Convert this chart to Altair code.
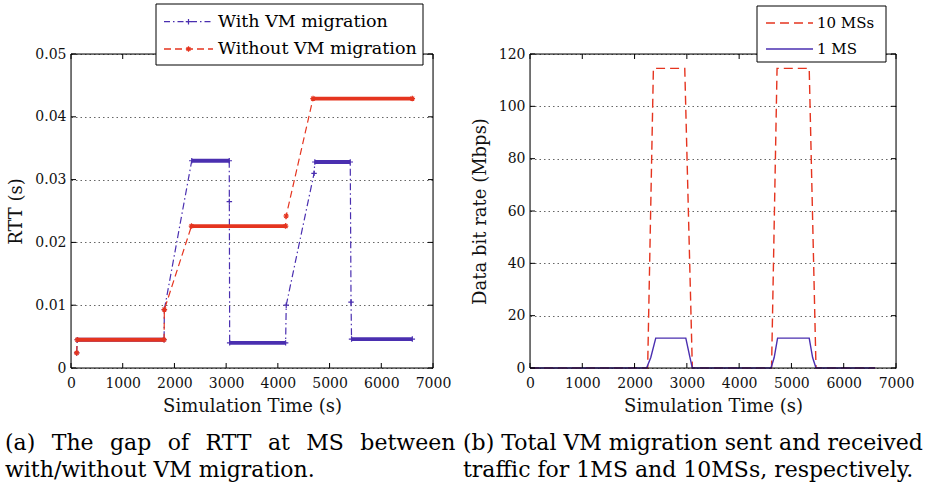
import altair as alt
import pandas as pd

FONT = "DejaVu Serif"
BLUE = "#4a2fb0"
RED = "#e5341f"

# ---------------- panel (a): RTT at MS ----------------
with_t = [110, 120, 1800, 1805, 2335, 3060, 3062, 3068, 4150, 4162, 4700, 4715, 5400, 5415, 5425, 6600]
with_rtt = [0.0024, 0.0045, 0.0045, 0.0093, 0.0330, 0.0330, 0.0265, 0.0040, 0.0040, 0.0100,
            0.0310, 0.0328, 0.0328, 0.0105, 0.0046, 0.0046]
with_plateau = [0, 1, 1, 0, 2, 2, 0, 3, 3, 0, 0, 4, 4, 0, 5, 5]

without_t = [110, 120, 1800, 1805, 2330, 4150, 4160, 4680, 6600]
without_rtt = [0.0024, 0.0045, 0.0045, 0.0093, 0.0226, 0.0226, 0.0242, 0.0429, 0.0429]
without_plateau = [0, 1, 1, 0, 2, 2, 0, 3, 3]

# ---------------- panel (b): migration traffic ----------------
ms10_t = [0, 2250, 2360, 2960, 3105, 4620, 4725, 5340, 5470, 6600]
ms10_rate = [0, 0, 114.5, 114.5, 0, 0, 114.5, 114.5, 0, 0]
ms1_t = [0, 2230, 2310, 2405, 2980, 3060, 3105, 4610, 4670, 4735, 5340, 5405, 5470, 6600]
ms1_rate = [0, 0, 4, 11.4, 11.4, 4, 0, 0, 4, 11.4, 11.4, 4, 0, 0]

x_ticks = [0, 1000, 2000, 3000, 4000, 5000, 6000, 7000]
rtt_ticks = [0, 0.01, 0.02, 0.03, 0.04, 0.05]
rate_ticks = [0, 20, 40, 60, 80, 100, 120]

legend_a = ["With VM migration", "Without VM migration"]
legend_b = ["10 MSs", "1 MS"]
GAP = " \u2004\u200a"
caption_a = [GAP.join(["(a)", "The", "gap", "of", "RTT", "at", "MS", "between"]),
             "with/without VM migration."]
caption_b = ["(b) Total VM migration sent and received", "traffic for 1MS and 10MSs, respectively."]

W_A, W_B, H = 362, 366, 314
CROSS = "M-1,0H1M0,-1V1"
STAR = "M-1,0H1M0,-1V1M-0.7,-0.7L0.7,0.7M-0.7,0.7L0.7,-0.7"

one = pd.DataFrame({"k": [0]})


def x_axis():
    return alt.Axis(values=x_ticks, format="d", title="Simulation Time (s)", labelFont=FONT,
                    labelFontSize=14, labelColor="#111", labelPadding=8, labelFlush=False, ticks=False,
                    domain=False, grid=False, titleFont=FONT, titleFontSize=18, titleFontWeight="normal",
                    titleColor="#111", titlePadding=7)


def y_axis(vals, title, fmt):
    return alt.Axis(values=vals, title=title, format=fmt, labelFont=FONT, labelFontSize=14,
                    labelColor="#111", labelPadding=5, labelFlush=False, ticks=False, domain=False,
                    grid=True, gridDash=[1.5, 3], gridColor="#555", gridWidth=0.9,
                    titleFont=FONT, titleFontSize=18, titleFontWeight="normal", titleColor="#111",
                    titlePadding=9)


def decorations(yvals, W, ydom):
    xs = pd.DataFrame({"t": x_ticks})
    ys = pd.DataFrame({"v": yvals})
    xsc = alt.Scale(domain=[0, 7000], nice=False)
    ysc = alt.Scale(domain=ydom, nice=False)
    L = 5
    rule = dict(color="black", strokeWidth=1)
    return [
        alt.Chart(xs).mark_rule(**rule).encode(x=alt.X("t:Q", scale=xsc), y=alt.value(H), y2=alt.value(H - L)),
        alt.Chart(xs).mark_rule(**rule).encode(x=alt.X("t:Q", scale=xsc), y=alt.value(0), y2=alt.value(L)),
        alt.Chart(ys).mark_rule(**rule).encode(y=alt.Y("v:Q", scale=ysc), x=alt.value(0), x2=alt.value(L)),
        alt.Chart(ys).mark_rule(**rule).encode(y=alt.Y("v:Q", scale=ysc), x=alt.value(W), x2=alt.value(W - L)),
        alt.Chart(one).mark_rect(filled=False, stroke="black", strokeWidth=1).encode(
            x=alt.value(0), x2=alt.value(W), y=alt.value(0), y2=alt.value(H)),
    ]


def legend_layers(box, rows, labels, styles, fs):
    x0, x1, y0, y1 = box
    layers = [alt.Chart(one).mark_rect(fill="white", stroke="black", strokeWidth=1).encode(
        x=alt.value(x0), x2=alt.value(x1), y=alt.value(y0), y2=alt.value(y1))]
    for (ry, sx0, sx1, lx), lab, st in zip(rows, labels, styles):
        color, dash, shape = st
        mk = dict(color=color, strokeWidth=1.3)
        if dash:
            mk["strokeDash"] = dash
        layers.append(alt.Chart(one).mark_rule(**mk).encode(
            x=alt.value(sx0), x2=alt.value(sx1), y=alt.value(ry)))
        if shape:
            layers.append(alt.Chart(one).mark_point(shape=shape, size=30, stroke=color, strokeWidth=1.2,
                                                    filled=False, opacity=1).encode(
                x=alt.value((sx0 + sx1) / 2), y=alt.value(ry)))
        layers.append(alt.Chart(one).mark_text(align="left", baseline="middle", font=FONT, fontSize=fs,
                                               color="black").encode(
            x=alt.value(lx), y=alt.value(ry), text=alt.value(lab)))
    return layers


# ---- panel (a) ----
df_with = pd.DataFrame({"t": with_t, "v": with_rtt, "p": with_plateau})
df_without = pd.DataFrame({"t": without_t, "v": without_rtt, "p": without_plateau})
xs_a = alt.Scale(domain=[0, 7000], nice=False)
ys_a = alt.Scale(domain=[0, 0.05], nice=False)


def series_a(df, color, dash, shape, first=False):
    enc_x = alt.X("t:Q", scale=xs_a, axis=x_axis()) if first else alt.X("t:Q", scale=xs_a)
    enc_y = alt.Y("v:Q", scale=ys_a, axis=y_axis(rtt_ticks, "RTT (s)", ".2~f")) if first else alt.Y("v:Q", scale=ys_a)
    line = alt.Chart(df).mark_line(color=color, strokeWidth=1.2, strokeDash=dash).encode(x=enc_x, y=enc_y)
    plateau = alt.Chart(df).transform_filter("datum.p > 0").mark_line(
        color=color, strokeWidth=3.8).encode(x=alt.X("t:Q", scale=xs_a), y=alt.Y("v:Q", scale=ys_a),
                                             detail="p:N")
    marks = alt.Chart(df).mark_point(shape=shape, size=30, stroke=color, strokeWidth=1.2, filled=False,
                                     opacity=1).encode(x=alt.X("t:Q", scale=xs_a), y=alt.Y("v:Q", scale=ys_a))
    return [line, plateau, marks]


layers_a = (series_a(df_with, BLUE, [7, 3, 1.5, 3], CROSS, first=True)
            + series_a(df_without, RED, [7, 4], STAR)
            + decorations(rtt_ticks, W_A, [0, 0.05])
            + legend_layers((85, 352, -50, 11),
                            [(-32.3, 93, 142, 147), (-5, 93, 142, 147)],
                            legend_a,
                            [(BLUE, [6, 3, 1.5, 3], CROSS), (RED, [7, 4], STAR)], 17.5))

left = alt.layer(*layers_a).properties(
    width=W_A, height=H,
    title=alt.TitleParams(text=caption_a, orient="bottom", anchor="start", frame="group", dx=-66,
                          offset=35, baseline="alphabetic", font=FONT, fontSize=22,
                          fontWeight="normal", color="black", lineHeight=27))

# ---- panel (b) ----
df_10 = pd.DataFrame({"t": ms10_t, "v": ms10_rate})
df_1 = pd.DataFrame({"t": ms1_t, "v": ms1_rate})
xs_b = alt.Scale(domain=[0, 7000], nice=False)
ys_b = alt.Scale(domain=[0, 120], nice=False)

line10 = alt.Chart(df_10).mark_line(color=RED, strokeWidth=1.4, strokeDash=[9, 5]).encode(
    x=alt.X("t:Q", scale=xs_b, axis=x_axis()),
    y=alt.Y("v:Q", scale=ys_b, axis=y_axis(rate_ticks, "Data bit rate (Mbps)", "d")))
line1 = alt.Chart(df_1).mark_line(color=BLUE, strokeWidth=1.4).encode(
    x=alt.X("t:Q", scale=xs_b), y=alt.Y("v:Q", scale=ys_b))

layers_b = ([line10, line1]
            + decorations(rate_ticks, W_B, [0, 120])
            + legend_layers((227, 356, -48, 8),
                            [(-31, 236, 283, 287), (-5, 236, 283, 287)],
                            legend_b,
                            [(RED, [9, 5], None), (BLUE, None, None)], 15))

right = alt.layer(*layers_b).properties(
    width=W_B, height=H,
    title=alt.TitleParams(text=caption_b, orient="bottom", anchor="start", frame="group", dx=-67,
                          offset=35, baseline="alphabetic", font=FONT, fontSize=22,
                          fontWeight="normal", color="black", lineHeight=27))

chart = alt.hconcat(left, right, spacing=97, bounds="flush").properties(
    padding={"left": 4, "top": 3, "right": 5, "bottom": 0}
).configure_view(stroke="transparent").configure(font=FONT)

chart.save("out.html", embed_options={"renderer": "svg", "actions": False})
